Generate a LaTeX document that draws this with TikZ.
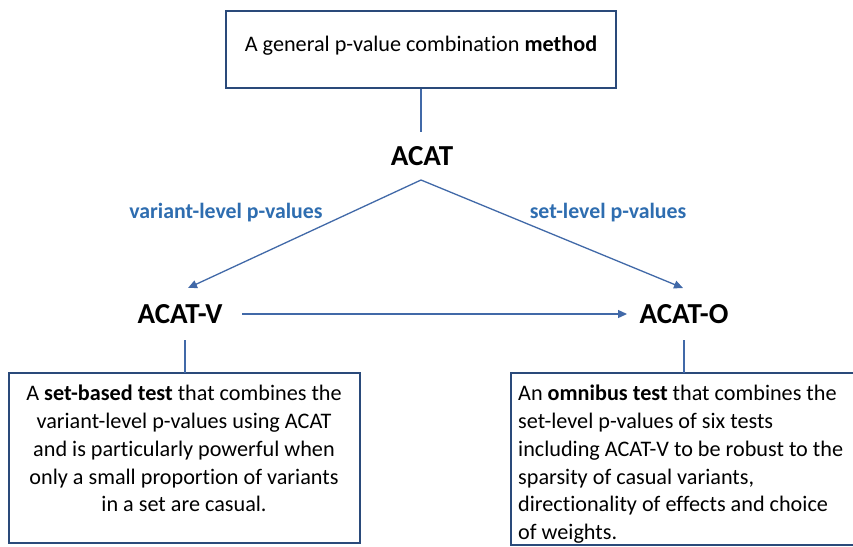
\documentclass[tikz,border=0pt]{standalone}
\usepackage{fontspec}
\setmainfont[Ligatures=NoCommon]{Carlito}
\usetikzlibrary{arrows.meta}
\definecolor{boxcol}{HTML}{2A4A7A}
\definecolor{linecol}{HTML}{4169A8}
\definecolor{labcol}{HTML}{2E6DB0}
\begin{document}
\begin{tikzpicture}[x=1pt,y=-1pt,
  framebox/.style={draw=boxcol,line width=2.8pt,fill=white,inner sep=0pt},
  conn/.style={draw=linecol,line width=1.3pt},
  arr/.style={conn,-{Triangle[length=9pt,width=8pt]}},
  big/.style={font=\fontsize{29}{32}\selectfont\bfseries,inner sep=0pt},
  lab/.style={font=\fontsize{21.8}{24}\selectfont\bfseries,text=labcol,inner sep=0pt},
  body/.style={font=\fontsize{22.2}{27.8}\selectfont,inner sep=0pt}]
\useasboundingbox (0,0) rectangle (853,546);
\fill[white] (0,0) rectangle (853,546);
% top box
\draw[framebox] (226,11) rectangle (616,88);
\node[body] (top) at (421,46) {A general p-value combination \textbf{method}};
\coordinate (topb) at (421,89);
% ACAT
\node[big] (acat) at (422,156) {ACAT};
\coordinate (acatt) at (421,132);
\coordinate (apex) at (421,180);
\draw[conn] (topb) -- (acatt);
% second level
\node[big] (acatv) at (180,314) {ACAT-V};
\node[big] (acato) at (684,314) {ACAT-O};
\coordinate (lt) at (188,288);
\coordinate (rt) at (683,288);
\draw[arr] (apex) -- (lt);
\draw[arr] (apex) -- (rt);
\node[lab] (vl) at (226,213) {variant-level p-values};
\node[lab] (sl) at (608,213) {set-level p-values};
\coordinate (hs) at (242,314);
\coordinate (he) at (627,314);
\draw[arr] (hs) -- (he);
% bottom boxes
\draw[framebox] (9,373) rectangle (360,543);
\draw[framebox] (511,373) rectangle (862,545);
\coordinate (lb) at (185,373);
\coordinate (rb) at (684,373);
\coordinate (lv) at (185,340);
\coordinate (rv) at (684,340);
\draw[conn] (lv) -- (lb);
\draw[conn] (rv) -- (rb);
\node[body,align=center,anchor=north] (ltext) at (184,385) {A \textbf{set-based test} that combines the\\variant-level p-values using ACAT\\and is particularly powerful when\\only a small proportion of variants\\in a set are casual.};
\node[body,align=left,anchor=north west] (rtext) at (518,385) {An \textbf{omnibus test} that combines the\\set-level p-values of six tests\\including ACAT-V to be robust to the\\sparsity of casual variants,\\directionality of effects and choice\\of weights.};
\end{tikzpicture}
\end{document}
